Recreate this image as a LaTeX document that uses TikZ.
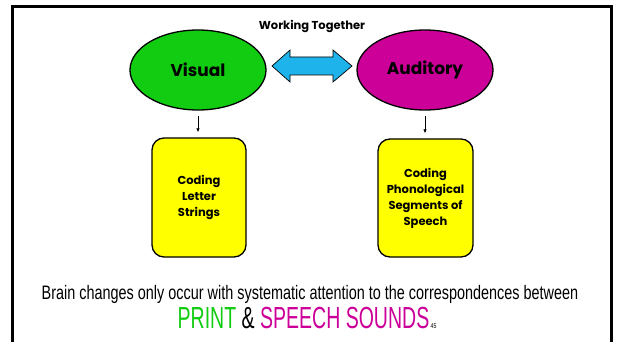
\documentclass[tikz,border=0pt]{standalone}
\usepackage{fontspec}
\setmainfont{Poppins}
\newfontfamily\condfont{Liberation Sans}[FakeStretch=0.74]
\newfontfamily\tallfont{Liberation Sans}[FakeStretch=0.64]
\usetikzlibrary{arrows.meta,shapes.geometric}

\definecolor{visgreen}{RGB}{17,204,17}
\definecolor{audmag}{RGB}{204,0,153}
\definecolor{linkcyan}{RGB}{30,180,235}
\definecolor{boxyellow}{RGB}{255,255,0}

\tikzset{
  sense/.style={ellipse, draw=black, line width=1.3pt, minimum width=136pt,
    minimum height=80pt, inner sep=0pt, font=\fontsize{17}{20}\selectfont\bfseries},
  codebox/.style={rectangle, rounded corners=12pt, draw=black, line width=1.3pt,
    fill=boxyellow, minimum width=94pt, minimum height=119pt, inner sep=0pt,
    align=center, font=\fontsize{11.5}{16}\selectfont\bfseries},
  feed/.style={-{Latex[length=4pt,width=3.5pt]}, line width=0.8pt,
    shorten <=5pt, shorten >=5pt},
}

\begin{document}
\begin{tikzpicture}[x=1pt,y=-1pt]
\useasboundingbox (0,0) rectangle (619,342);
\clip (0,0) rectangle (619,342);

% slide frame, open at the bottom
\draw[line width=3pt] (12.5,350) -- (12.5,6.5) -- (611.5,6.5) -- (611.5,350);

% the two processing systems
\node[sense, fill=visgreen] (vis) at (198,70) {Visual};
\node[sense, fill=audmag] (aud) at (425,70) {Auditory};

\node[font=\fontsize{11.5}{13}\selectfont\bfseries] (work) at (312,26) {Working Together};

% two-headed link between the ellipses
\coordinate (lt) at (272,66);
\coordinate (rt) at (352,66);
\draw[fill=linkcyan, line width=0.7pt]
  (lt) -- (290,50) -- (290,57) -- (333,57) -- (333,50) -- (rt)
  -- (333,82) -- (333,75) -- (290,75) -- (290,82) -- cycle;

% coding stages
\node[codebox] (lbox) at (199,197.5) {Coding\\Letter\\Strings};
\node[codebox, minimum width=95pt, minimum height=118pt] (rbox) at (425.5,198)
  {Coding\\Phonological\\Segments of\\Speech};

\draw[feed] (vis.south) -- (vis.south |- lbox.north);
\draw[feed] (aud.south) -- (aud.south |- rbox.north);

% caption
\node[font=\condfont\fontsize{19.5}{22}\selectfont, anchor=base, inner sep=0pt] (cap) at (310,299)
  {Brain changes only occur with systematic attention to the correspondences between};
\node[font=\tallfont\fontsize{30.5}{34}\selectfont, anchor=base, inner sep=0pt] (cap2) at (303.5,328)
  {\textcolor{visgreen}{PRINT} \& \textcolor{audmag}{SPEECH SOUNDS}};
\node[font=\condfont\fontsize{7}{8}\selectfont, anchor=base west, inner sep=0pt]
  (pg) at ([xshift=1pt]cap2.base east) {45};
\end{tikzpicture}
\end{document}
